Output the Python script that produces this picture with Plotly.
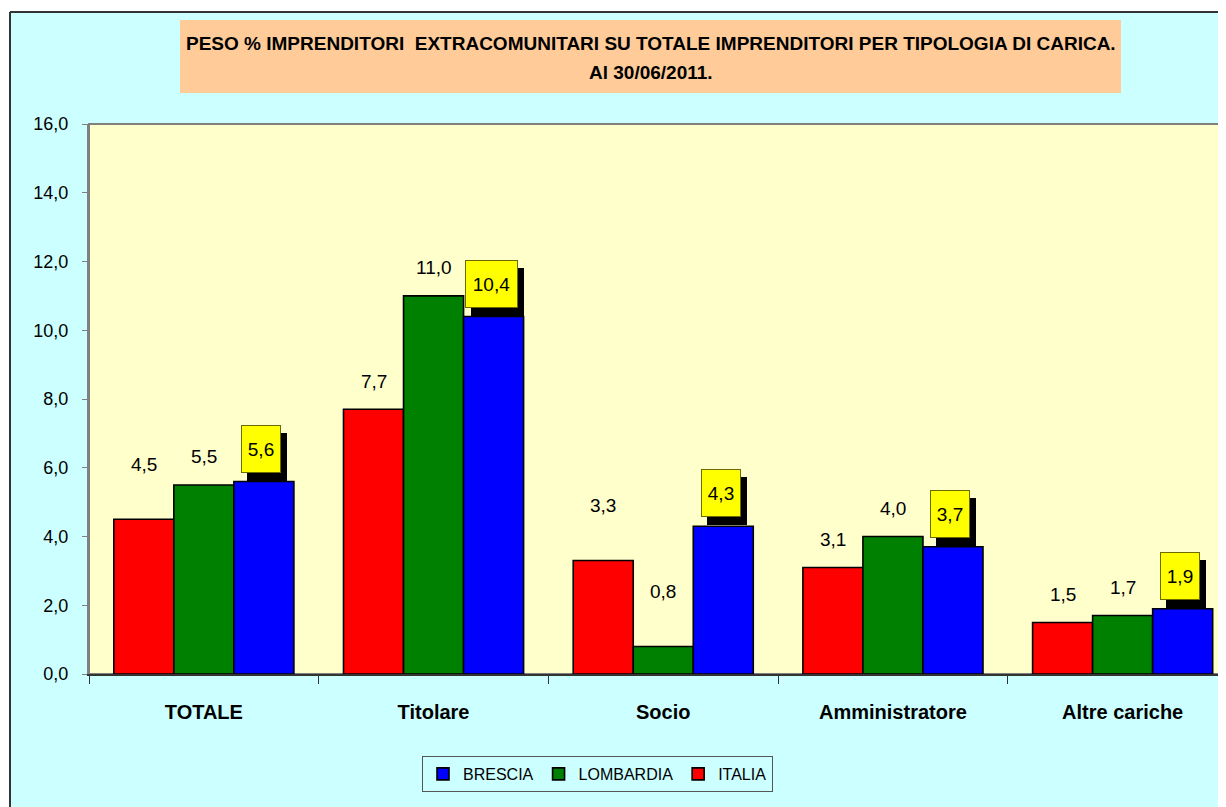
import plotly.graph_objects as go

# ---- data ----
categories = ["TOTALE", "Titolare", "Socio", "Amministratore", "Altre cariche"]
italia = [4.5, 7.7, 3.3, 3.1, 1.5]
lombardia = [5.5, 11.0, 0.8, 4.0, 1.7]
brescia = [5.6, 10.4, 4.3, 3.7, 1.9]
y_ticks = [0, 2, 4, 6, 8, 10, 12, 14, 16]
title_lines = ["PESO % IMPRENDITORI  EXTRACOMUNITARI SU TOTALE IMPRENDITORI PER TIPOLOGIA DI CARICA.",
               "Al 30/06/2011."]

# ---- geometry (reference page pixels; the page body adds an 8px margin) ----
OFF = 8
W, H = 1226 - OFF, 807 - OFF
PLOT_L, PLOT_R, PLOT_T, PLOT_B = 89, 1226, 124, 674  # in page pixels
ML, MR = PLOT_L - OFF, 1226 - PLOT_R
MT, MB = PLOT_T - OFF, 807 - PLOT_B
PW, PH = PLOT_R - PLOT_L, PLOT_B - PLOT_T


def px(x):
    return (x - PLOT_L) / PW


def py(y):
    return (PLOT_B - y) / PH


FONT = "Liberation Sans, Arial, sans-serif"
fig = go.Figure()

series = [("ITALIA", italia, "#FF0000"), ("LOMBARDIA", lombardia, "#008000"), ("BRESCIA", brescia, "#0000FF")]
for name, vals, col in series:
    fig.add_trace(go.Bar(
        name=name, x=categories, y=vals,
        marker=dict(color=col, line=dict(color="#000000", width=1.6)),
        hoverinfo="x+y+name",
    ))


def fmt(v):
    return f"{v:.1f}".replace(".", ",")


annotations = []
bar_off = {"ITALIA": -60, "LOMBARDIA": 0, "BRESCIA": 60}
high_lift = {("ITALIA", "TOTALE"), ("ITALIA", "Socio"), ("LOMBARDIA", "Socio")}
for name, vals, col in series[:2]:
    for c, v in zip(categories, vals):
        lift = 55 if (name, c) in high_lift else 28
        annotations.append(dict(x=c, y=v, xref="x", yref="y", text=fmt(v), showarrow=False,
                                xshift=bar_off[name], yshift=lift, yanchor="middle",
                                font=dict(family=FONT, size=19, color="#000000")))
# boxed labels for BRESCIA (shadow first)
for c, v in zip(categories, brescia):
    bw = 40 if len(fmt(v)) <= 3 else 53
    annotations.append(dict(x=c, y=v, xref="x", yref="y", text=" ", showarrow=False,
                            xshift=57.5 + 6, yshift=9 - 8, yanchor="bottom",
                            width=bw, height=48, borderpad=0, borderwidth=0,
                            bgcolor="#000000", font=dict(family=FONT, size=19)))
for c, v in zip(categories, brescia):
    bw = 40 if len(fmt(v)) <= 3 else 53
    annotations.append(dict(x=c, y=v, xref="x", yref="y", text=fmt(v), showarrow=False,
                            xshift=57.5, yshift=9, yanchor="bottom", valign="middle",
                            width=bw - 2, height=46, borderpad=0, borderwidth=1,
                            bordercolor="#6b6b00", bgcolor="#FFFF00",
                            font=dict(family=FONT, size=19, color="#000000")))
# title
for i, line in enumerate(title_lines):
    annotations.append(dict(x=px(651), y=py(43 + 30 * i), xref="paper", yref="paper", text=f"<b>{line}</b>",
                            showarrow=False, xanchor="center", yanchor="middle",
                            font=dict(family=FONT, size=19, color="#000000")))

shapes = [
    # white strips outside the chart frame
    dict(type="rect", xref="paper", yref="paper", x0=px(0), x1=px(1240), y0=py(11), y1=py(0),
         fillcolor="#FFFFFF", line=dict(width=0), layer="below"),
    dict(type="rect", xref="paper", yref="paper", x0=px(0), x1=px(9), y0=py(820), y1=py(0),
         fillcolor="#FFFFFF", line=dict(width=0), layer="below"),
    # outer frame
    dict(type="line", xref="paper", yref="paper", x0=px(10), x1=px(1240), y0=py(12), y1=py(12),
         line=dict(color="#333333", width=2)),
    dict(type="line", xref="paper", yref="paper", x0=px(10), x1=px(10), y0=py(12), y1=py(820),
         line=dict(color="#333333", width=2)),
    # title box
    dict(type="rect", xref="paper", yref="paper", x0=px(180), x1=px(1121), y0=py(93), y1=py(20),
         fillcolor="#FFCC99", line=dict(width=0), layer="below"),
    # plot area border
    dict(type="rect", xref="paper", yref="paper", x0=0, x1=1.01, y0=0, y1=1,
         fillcolor="rgba(0,0,0,0)", line=dict(color="#808080", width=2), layer="below"),
]

fig.update_layout(
    width=W, height=H,
    margin=dict(l=ML, r=MR, t=MT, b=MB, pad=0),
    paper_bgcolor="#CCFFFF", plot_bgcolor="#FFFFCC",
    separators=",.",
    barmode="group", bargap=0.216, bargroupgap=0,
    font=dict(family=FONT, size=18, color="#000000"),
    showlegend=True,
    legend=dict(orientation="h", traceorder="reversed", x=px(422), xanchor="left", y=py(756), yanchor="top",
                bgcolor="#CCFFFF", bordercolor="#555555", borderwidth=1,
                font=dict(family=FONT, size=16, color="#000000"), itemwidth=30),
    annotations=annotations, shapes=shapes,
)
fig.update_xaxes(type="category", range=[-0.5, 4.45], showgrid=False, showline=True, linecolor="#333333",
                 linewidth=2, ticks="outside", tickson="boundaries", ticklen=8, tickcolor="#333333",
                 tickfont=dict(family=FONT, size=20, color="#000000", weight="bold"),
                 ticklabelstandoff=19, fixedrange=True)
fig.update_yaxes(range=[0, 16], tickvals=y_ticks, tickformat=".1f", showgrid=False, zeroline=False,
                 showline=True, linecolor="#808080", linewidth=2, ticks="outside", ticklen=5,
                 tickcolor="#808080", tickfont=dict(family=FONT, size=18, color="#000000"),
                 ticklabelstandoff=10, fixedrange=True)

fig.write_html("out.html")
